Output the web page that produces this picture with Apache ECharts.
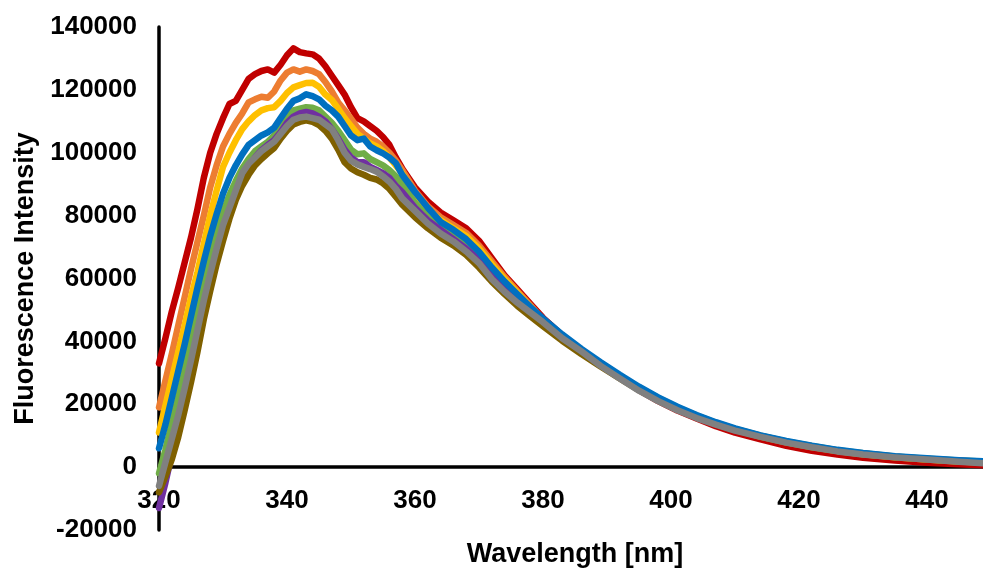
<!DOCTYPE html>
<html><head><meta charset="utf-8">
<script src="https://cdn.jsdelivr.net/npm/echarts@6/dist/echarts.min.js"></script>
<style>html,body{margin:0;padding:0;background:#fff}#c{width:983px;height:569px}</style>
</head><body><div id="c"></div>
<script>
// Wavelength samples (nm)
const wavelengths = [320,321,322,323,324,325,326,327,328,329,
  330,331,332,333,334,335,336,337,338,339,
  340,341,342,343,344,345,346,347,348,349,
  350,351,352,353,354,355,356,357,358,
  360,362,364,366,368,370,372,374,376,378,380,
  383,386,389,392,395,398,401,404,407,410,414,418,422,426,430,435,440,445,450];

const xTicks = [320,340,360,380,400,420,440];
const yTicks = [-20000,0,20000,40000,60000,80000,100000,120000,140000];

const seriesRed = [33000,41000,49500,57000,65000,73000,82000,92000,100000,106000,
  111000,115500,116500,120000,123500,125000,126000,126500,125500,128000,
  131000,133200,132000,131600,131300,130000,127500,124500,121500,118500,
  114500,111000,110000,108500,107000,105000,102500,98500,95000,
  89000,84500,81000,78500,76000,72000,66500,61000,56500,52000,47500,
  42000,37000,32500,28500,24500,21000,18000,15500,13000,11000,8800,6800,5200,4000,3000,2100,1400,900,500];

const seriesOrange = [19000,27500,36000,45000,54000,63000,71500,80000,89000,96000,
  102000,106000,109500,112500,116000,117000,117800,117500,119500,123000,
  125500,126500,125800,126500,126000,125000,122500,119500,116000,113500,
  110800,108000,106000,104500,103500,102000,100000,97500,94500,
  88000,83000,79500,77000,74500,70500,65500,60500,56000,51500,47000,
  41800,37000,32800,28800,25000,21600,18700,16100,13900,12000,9800,8000,6500,5200,4200,3200,2500,1900,1500];

const seriesGold = [11000,19500,28000,36500,45000,54000,62000,71000,80000,88000,
  95500,100000,104000,107500,110000,112000,113500,114200,114500,116500,
  119000,120800,121500,122200,122300,121000,118500,116800,114000,111000,
  108500,106000,104500,103000,102000,100500,98500,96000,93500,
  87000,82000,78500,76000,73500,69500,64500,59800,55500,51000,46600,
  41500,36800,32600,28600,24800,21500,18600,16000,13800,11900,9700,7900,6400,5100,4100,3100,2400,1800,1400];

const seriesBlue = [6000,13500,22000,30500,39000,48000,57000,65500,73500,80500,
  87000,92000,96000,99500,102500,104000,105500,106500,108000,111000,
  114000,116500,117300,118600,118000,117000,115000,113500,111500,108500,
  105500,104000,104500,102000,100800,99800,98500,96700,93000,
  87500,82500,78000,75500,72500,68500,63500,59000,55000,51000,47300,
  42200,37600,33400,29400,25600,22200,19200,16600,14300,12300,10100,8300,6800,5500,4500,3500,2800,2200,1800];

const seriesGreen = [-2000,5500,14000,22500,31000,40000,49000,58000,66500,74500,
  81000,86500,91000,95000,98000,100500,102000,103500,105500,108500,
  111500,113500,114000,114500,114300,113500,111500,109500,107000,104000,
  101000,99500,99800,98000,97000,96000,94500,92500,90000,
  84000,79500,76000,73500,70500,66500,62000,57800,53800,50000,46500,
  41600,37200,33000,29100,25300,22000,19000,16400,14100,12200,10000,8200,6700,5400,4400,3400,2700,2100,1700];

const seriesPurple = [-13000,-5000,4000,13000,22000,31000,40000,49000,58000,66500,
  74000,80500,86500,91500,95500,98500,100800,102500,104000,106500,
  109500,111500,112500,113000,112500,111500,110000,107500,104500,101000,
  98500,97000,97000,95500,94500,93500,92000,89500,87500,
  82500,78500,75500,72500,69500,66000,61500,57200,53300,49800,46300,
  41400,37000,32800,28800,25000,21700,18800,16200,14000,12000,9900,8100,6600,5300,4300,3300,2600,2000,1600];

const seriesBrown = [-8000,-3000,2500,9500,18000,27000,36500,47000,56000,64500,
  72000,79000,85000,89500,93000,96000,98000,99800,101500,104500,
  107000,109000,109800,110300,109800,108800,107000,104500,101000,97000,
  95000,93800,93000,92000,91500,90300,88500,86000,83500,
  79500,76000,73000,70500,67500,63500,59000,55000,51300,48000,44800,
  40200,36000,32000,28200,24500,21200,18400,15900,13700,11800,9700,7900,6400,5200,4200,3200,2500,1900,1500];

const seriesGray = [-6000,1500,9000,16500,25000,34000,43500,53000,61500,69500,
  77000,82500,88000,93500,96500,98500,100500,102000,103500,106000,
  108500,110500,111200,111500,111000,110500,109000,107500,104000,100000,
  97500,96300,95500,94800,94000,92500,90800,88500,85500,
  81500,77500,74300,71800,68600,64900,59800,55800,52300,49200,46100,
  41000,36800,32200,28200,24300,21000,18100,15600,13500,11600,9600,7800,6300,5000,4000,3100,2400,1700,1100];

const seriesList = [
  {name:'Series 1', values: seriesRed,    color:'#C00000'},
  {name:'Series 2', values: seriesOrange, color:'#ED7D31'},
  {name:'Series 3', values: seriesGold,   color:'#FFC000'},
  {name:'Series 5', values: seriesGreen,  color:'#70AD47'},
  {name:'Series 6', values: seriesPurple, color:'#7030A0'},
  {name:'Series 7', values: seriesBrown,  color:'#7F6000'},
  {name:'Series 4', values: seriesBlue,   color:'#0070C0'},
  {name:'Series 8', values: seriesGray,   color:'#808080'}
];

const FONT = '"Liberation Sans", Arial, Helvetica, sans-serif';
const chart = echarts.init(document.getElementById('c'), null, {renderer:'canvas'});
const option = {
  animation: false,
  backgroundColor: '#ffffff',
  grid: {left: 159, right: -8, top: 27, bottom: 39, containLabel: false, outerBoundsMode: 'none'},
  xAxis: {
    type: 'value', min: xTicks[0], max: 450, interval: 20,
    axisLine: {show: true, onZero: true, lineStyle: {color: '#000', width: 3.5}},
    axisTick: {show: false}, splitLine: {show: false},
    axisLabel: {color: '#000', fontFamily: FONT, fontWeight: 'bold', fontSize: 26,
      inside: true, margin: 16, showMaxLabel: false,
      formatter: v => xTicks.indexOf(v) >= 0 ? String(v) : ''},
    name: 'Wavelength [nm]', nameLocation: 'middle', nameGap: 11,
    nameTextStyle: {color: '#000', fontFamily: FONT, fontWeight: 'bold', fontSize: 27}
  },
  yAxis: {
    type: 'value', min: yTicks[0], max: yTicks[yTicks.length-1], interval: 20000,
    axisLine: {show: true, onZero: false, lineStyle: {color: '#000', width: 3.5}},
    axisTick: {show: false}, splitLine: {show: false},
    axisLabel: {color: '#000', fontFamily: FONT, fontWeight: 'bold', fontSize: 26, margin: 22,
      formatter: v => String(v)},
    name: 'Fluorescence Intensity', nameLocation: 'middle', nameGap: 120,
    nameTextStyle: {color: '#000', fontFamily: FONT, fontWeight: 'bold', fontSize: 27}
  },
  series: seriesList.map(s => ({
    name: s.name, type: 'line', showSymbol: false, symbol: 'none',
    data: wavelengths.map((w, i) => [w, s.values[i]]),
    lineStyle: {color: s.color, width: 6.5, cap: 'round', join: 'round'},
    itemStyle: {color: s.color},
    emphasis: {disabled: true}
  }))
};
chart.setOption(option);
</script>
</body></html>
